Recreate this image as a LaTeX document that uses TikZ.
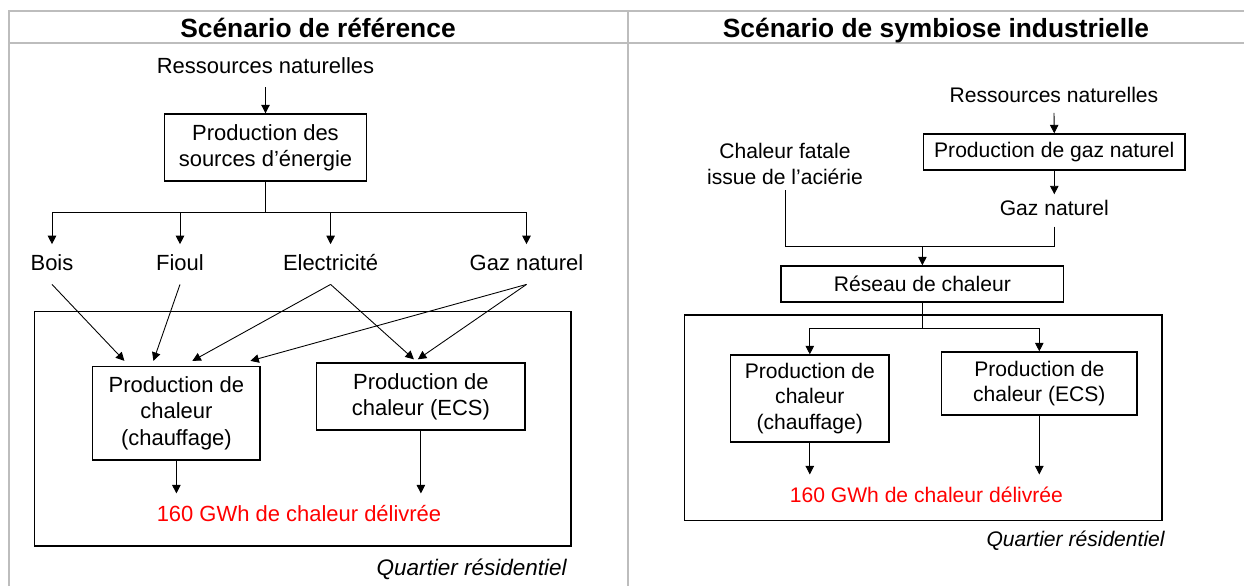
\documentclass[tikz,border=0pt]{standalone}
\usepackage{fontspec}
\setmainfont{Liberation Sans}
\usetikzlibrary{arrows.meta,calc}
\tikzset{
	arr/.style={line width=0.5pt, -{Triangle[length=4.8pt,width=4.8pt]}},
	link/.style={line width=0.5pt},
	grid/.style={line width=1.1pt, color=black!26},
	titre/.style={font=\bfseries\fontsize{15}{18}\selectfont, inner sep=0pt},
	txtL/.style={font=\fontsize{12.5}{15}\selectfont, text height=9.5pt, text depth=3pt, inner xsep=2pt, inner ysep=5pt},
	txtR/.style={font=\fontsize{12}{14.7}\selectfont, text height=9pt, text depth=3pt, inner xsep=2pt, inner ysep=3pt},
	boxL/.style={draw, line width=0.8pt, align=center, font=\fontsize{12.5}{15}\selectfont, inner sep=2pt},
	boxR/.style={draw, line width=0.8pt, align=center, font=\fontsize{12}{14.7}\selectfont, inner sep=2pt},
	chaleur/.style={text=red, inner xsep=0pt, inner ysep=6.5pt, text height=9pt, text depth=3pt},
	zone/.style={draw, line width=0.8pt},
	quartier/.style={font=\itshape\fontsize{12}{14}\selectfont, inner sep=0pt}
}

\begin{document}
\begin{tikzpicture}[x=0.02cm, y=-0.02cm]
			%%%%% START %%%%%
			\useasboundingbox (0,0) rectangle (1244,586);
			
			\draw[grid] (9,586) -- (9,11) -- (1244,11);
			\draw[grid] (9,42.7) -- (1244,42.7);
			\draw[grid] (628,11) -- (628,586);
			
			\node[titre, anchor=base] (titreL) at (318,37) {Scénario de référence};
			\node[titre, anchor=base] (titreR) at (936,37) {Scénario de symbiose industrielle};
			
			%%%%% REFERENCE %%%%%
			
			\node[txtL, anchor=base] (res1) at (265.5,73) {Ressources naturelles};
			\node[boxL, minimum width=4.04cm, minimum height=1.34cm] (src1) at (265.5,147.5) {Production des\\sources d’énergie};
			\draw[arr] (res1.south) -- (src1.north);
			
			\node[txtL, anchor=base] (bois) at (52,270) {Bois};
			\node[txtL, anchor=base] (fioul) at (180,270) {Fioul};
			\node[txtL, anchor=base] (elec) at (330.6,270) {Electricité};
			\node[txtL, anchor=base] (gaz1) at (526.5,270) {Gaz naturel};
			
			\coordinate (br1) at (265.5,212);
			\draw[link] (src1.south) -- (br1);
			\foreach \n in {bois,fioul,elec,gaz1}
				\draw[arr] (br1) -| (\n.north);
			
			\draw[zone] (34.7,311.7) rectangle (571,546);
			
			\node[boxL, minimum width=3.35cm, minimum height=1.87cm] (chf1) at (176.4,413.3) {Production de\\chaleur\\(chauffage)};
			\node[boxL, minimum width=4.17cm, minimum height=1.34cm] (ecs1) at (420.9,396.5) {Production de\\chaleur (ECS)};
			
			\draw[arr] (bois.south) -- ($(chf1.north)+(-52,-5)$);
			\draw[arr] (fioul.south) -- ($(chf1.north)+(-23,-5)$);
			\draw[arr] (elec.south) -- ($(chf1.north)+(16,-5)$);
			\draw[arr] (gaz1.south) -- ($(chf1.north)+(74,-5)$);
			\draw[arr] (elec.south) -- ($(ecs1.north)+(-7,-3)$);
			\draw[arr] (gaz1.south) -- ($(ecs1.north)+(-3,-3)$);
			
			\node[txtL, chaleur, anchor=base] (heat1) at (299,521) {160 GWh de chaleur délivrée};
			\draw[arr] (chf1.south) -- (chf1.south |- heat1.north);
			\draw[arr] (ecs1.south) -- (ecs1.south |- heat1.north);
			
			\node[quartier, font=\itshape\fontsize{12.8}{15}\selectfont, anchor=base east] (qr1) at (567,575) {Quartier résidentiel};
			
			%%%%% SYMBIOSE %%%%%
			
			\node[txtR, anchor=base] (res2) at (1054,102) {Ressources naturelles};
			\node[boxR, minimum width=5.23cm, minimum height=0.72cm] (gasprod) at (1054.3,152) {Production de gaz naturel};
			\draw[arr] (res2.south) -- (gasprod.north);
			\node[txtR, anchor=base] (gaz2) at (1054.3,215.7) {Gaz naturel};
			\draw[arr] (gasprod.south) -- (gaz2.north);
			
			\node[align=center, font=\fontsize{12}{14.7}\selectfont, inner sep=3pt] (fatale) at (785,164) {Chaleur fatale\\issue de l’aciérie};
			
			\node[boxR, minimum width=5.65cm, minimum height=0.72cm] (rdc) at (922.4,284) {Réseau de chaleur};
			\coordinate (mrg) at (922.4,246);
			\draw[link] (fatale.south) |- (mrg);
			\draw[link] (gaz2.south) |- (mrg);
			\draw[arr] (mrg) -- (rdc.north);
			
			\draw[zone] (684.5,315) rectangle (1162,520.7);
			
			\node[boxR, minimum width=3.17cm, minimum height=1.74cm] (chf2) at (809.8,398.5) {Production de\\chaleur\\(chauffage)};
			\node[boxR, minimum width=3.91cm, minimum height=1.26cm] (ecs2) at (1039.3,383.5) {Production de\\chaleur (ECS)};
			
			\coordinate (spl) at (922.4,328);
			\draw[link] (rdc.south) -- (spl);
			\draw[arr] (spl) -| (chf2.north);
			\draw[arr] (spl) -| (ecs2.north);
			
			\node[txtR, chaleur, anchor=base] (heat2) at (926.4,502) {160 GWh de chaleur délivrée};
			\draw[arr] (chf2.south) -- (chf2.south |- heat2.north);
			\draw[arr] (ecs2.south) -- (ecs2.south |- heat2.north);
			
			\node[quartier, anchor=base east] (qr2) at (1165,546) {Quartier résidentiel};
			
			%%%%% END %%%%%
\end{tikzpicture}
\end{document}
